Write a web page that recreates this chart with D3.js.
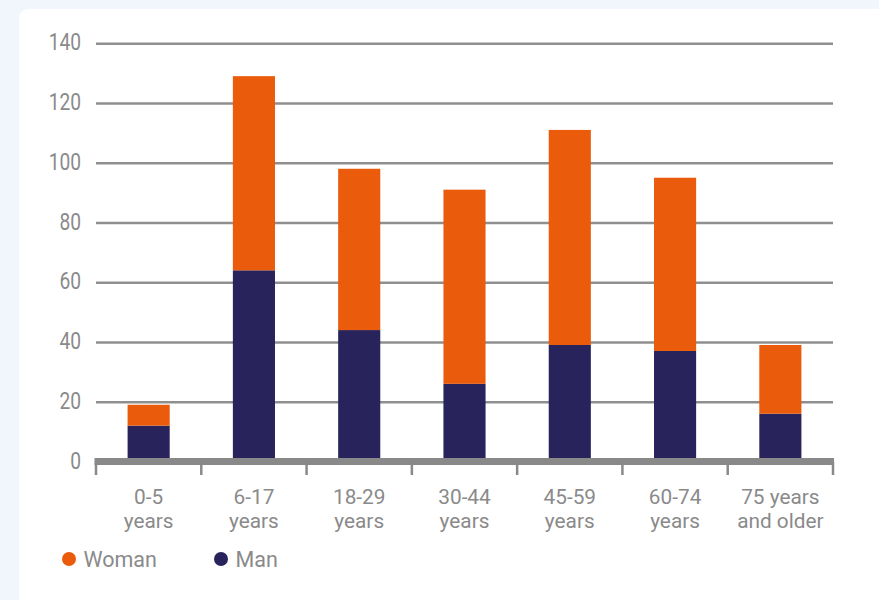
<!DOCTYPE html>
<html>
<head>
<meta charset="utf-8">
<script src="https://cdn.jsdelivr.net/npm/d3@7"></script>
<style>
  html, body { margin: 0; padding: 0; background: #f0f6fb; }
  svg { display: block; }
  text { font-family: Roboto, "Noto Sans", sans-serif; fill: #8a8a8a; }
</style>
</head>
<body>
<svg id="chart" width="879" height="600"></svg>
<script>
const categories = ["0-5|years", "6-17|years", "18-29|years", "30-44|years", "45-59|years", "60-74|years", "75 years|and older"];
const manValues = [12, 64, 44, 26, 39, 37, 16];
const womanValues = [7, 65, 54, 65, 72, 58, 23];
const yTicks = [0, 20, 40, 60, 80, 100, 120, 140];
const seriesNames = ["Woman", "Man"];
const colors = { Woman: "#ea5b0c", Man: "#28235a" };

const svg = d3.select("#chart");

// card
svg.append("rect").attr("x", 19).attr("y", 9).attr("width", 900).attr("height", 640)
  .attr("rx", 9).attr("fill", "#ffffff");

const x = d3.scaleBand().domain(categories).range([96, 833]).padding(0);
const y = d3.scaleLinear().domain([0, 140]).range([461.5, 43.3]);

// gridlines
const grid = svg.append("g").attr("transform", "translate(96,0)")
  .call(d3.axisLeft(y).tickValues(yTicks.filter(d => d > 0)).tickSize(-737).tickFormat(""));
grid.select(".domain").remove();
grid.selectAll(".tick line").attr("stroke", "#8f8f8f").attr("stroke-width", 2.5);

// y labels
svg.append("g").selectAll("text").data(yTicks).join("text")
  .attr("transform", d => `translate(81,${y(d) + 7}) scale(0.8,1)`)
  .attr("text-anchor", "end")
  .style("font-size", "24px")
  .text(d => d);

// stacked data
const rows = categories.map((c, i) => ({ cat: c, Man: manValues[i], Woman: womanValues[i] }));
const stack = d3.stack().keys(["Man", "Woman"])(rows);
const barW = x.bandwidth() * 0.4;

svg.append("g").selectAll("g").data(stack).join("g")
  .attr("fill", d => colors[d.key])
  .selectAll("rect").data(d => d).join("rect")
  .attr("x", d => x(d.data.cat) + (x.bandwidth() - barW) / 2)
  .attr("y", d => y(d[1]))
  .attr("width", barW)
  .attr("height", d => y(d[0]) - y(d[1]));

// x axis line and ticks
const axisG = svg.append("g");
axisG.append("line").attr("x1", 94.5).attr("x2", 834).attr("y1", y(0)).attr("y2", y(0))
  .attr("stroke", "#898989").attr("stroke-width", 7);
const boundaries = categories.map(c => x(c)).concat([x.range()[1]]);
axisG.selectAll("line.tk").data(boundaries).join("line").attr("class", "tk")
  .attr("x1", d => d).attr("x2", d => d)
  .attr("y1", y(0)).attr("y2", 475)
  .attr("stroke", "#898989").attr("stroke-width", 2.5);

// x labels
const xl = svg.append("g").selectAll("text").data(categories).join("text")
  .attr("text-anchor", "middle")
  .attr("transform", d => `translate(${x(d) + x.bandwidth() / 2},0)`)
  .style("font-size", "20.8px");
xl.each(function(d) {
  const parts = d.split("|");
  const t = d3.select(this);
  parts.forEach((p, i) => t.append("tspan").attr("x", 0).attr("y", 503.5 + i * 24).text(p));
});

// legend
const legendX = [69, 221];
const lg = svg.append("g").selectAll("g").data(seriesNames).join("g")
  .attr("transform", (d, i) => `translate(${legendX[i]},559)`);
lg.append("circle").attr("r", 7).attr("fill", d => colors[d]);
lg.append("text").attr("x", 14.5).attr("y", 7.8).style("font-size", "21.5px").text(d => d);
</script>
</body>
</html>
